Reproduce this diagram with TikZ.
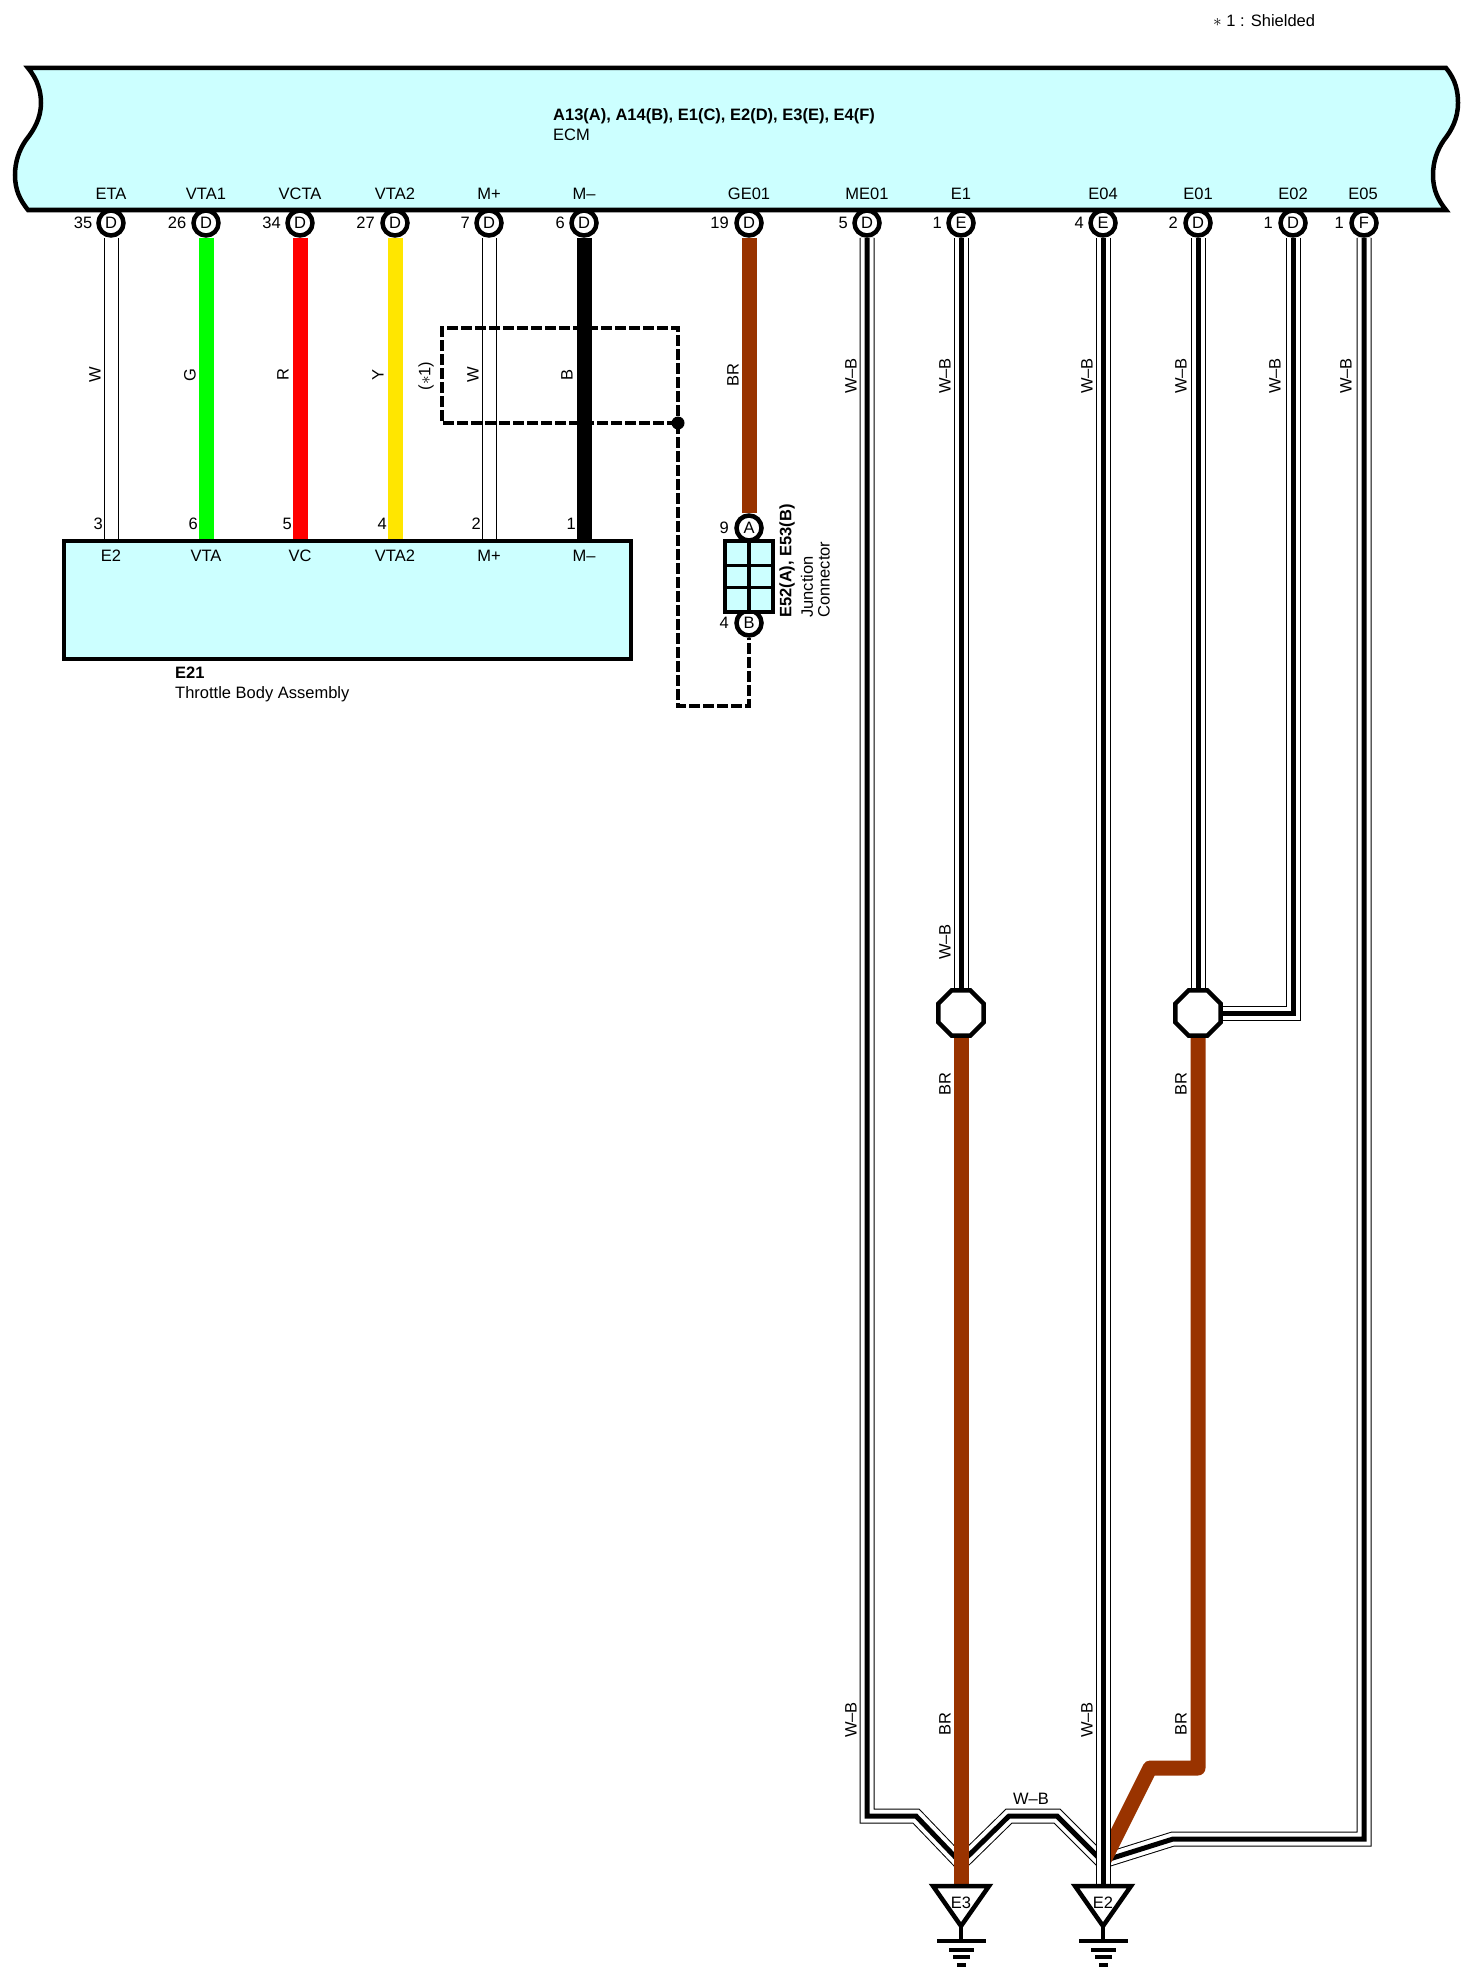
\documentclass[tikz,border=0pt]{standalone}
\usepackage{fontspec}
\setmainfont{Liberation Sans}
\usepackage{tikz}
\usetikzlibrary{shapes.geometric,backgrounds}
\definecolor{ecmfill}{HTML}{CCFFFF}
\definecolor{wirebr}{HTML}{993300}
\definecolor{wireg}{HTML}{00FF00}
\definecolor{wirer}{HTML}{FF0000}
\definecolor{wirey}{HTML}{FFE600}
\newcommand{\wirewidth}{15pt}
\newcommand{\thickness}{4.5pt}
\newcommand{\labfont}{\fontsize{16.5pt}{19pt}\selectfont}
\tikzset{
  lab/.style={font=\labfont,inner sep=0pt},
  vlab/.style={lab,rotate=90},
  pinmark/.style={circle,draw,fill=white,line width=\thickness,minimum size=25pt,inner sep=0pt,font=\labfont},
  wire/.style={line width=\wirewidth},
  wwire/.style={line width=1pt,double=white,double distance=13pt},
  wbwire/.style={preaction={draw,black,line width=\wirewidth},preaction={draw,white,line width=13pt},draw,black,line width=5pt},
  shield/.style={line width=\thickness,dash pattern=on 11pt off 3pt},
  body/.style={draw,line width=\thickness,fill=ecmfill},
  splice/.style={regular polygon,regular polygon sides=8,draw,fill=white,line width=\thickness,minimum size=49pt,inner sep=0pt},
  bar/.style={line width=3.5pt}
}

\begin{document}
\begin{tikzpicture}[x=1pt,y=-1pt]
\useasboundingbox (0,0) rectangle (1467,1980);
%ECM
\draw[body] (28,68) -- (1446,68) .. controls (1456,80) and (1458,92) .. (1458,103) .. controls (1458,118) and (1452,130) .. (1444,140) .. controls (1437,150) and (1433,162) .. (1433,175) .. controls (1433,190) and (1438,200) .. (1446,210) -- (28,210) .. controls (20,200) and (15,190) .. (15,175) .. controls (15,162) and (19,150) .. (26,140) .. controls (34,130) and (41,118) .. (41,103) .. controls (41,92) and (38,80) .. (28,68) -- cycle;
\node[lab,anchor=west,font=\labfont\bfseries] (ecmname) at (553,116) {A13(A), A14(B), E1(C), E2(D), E3(E), E4(F)};
\node[lab,anchor=west] (ecmtext) at (553,135) {ECM};
\node[lab,anchor=west] (note) at (1213,21) {$\ast$ 1 : Shielded};
%throttle body
\node[body,minimum width=567pt,minimum height=118pt,inner sep=0pt] (e21) at (347.5,600) {};
\node[lab,anchor=west,font=\labfont\bfseries] (e21name) at (175,673) {E21};
\node[lab,anchor=west] (e21text) at (175,694) {Throttle Body Assembly};
%ECM pins
\node[pinmark] (p1) at (111,223) {D};
\node[pinmark] (p2) at (206,223) {D};
\node[pinmark] (p3) at (300,223) {D};
\node[pinmark] (p4) at (395,223) {D};
\node[pinmark] (p5) at (489,223) {D};
\node[pinmark] (p6) at (584,223) {D};
\node[pinmark] (p7) at (749,223) {D};
\node[pinmark] (p8) at (867,223) {D};
\node[pinmark] (p9) at (961,223) {E};
\node[pinmark] (p10) at (1103,223) {E};
\node[pinmark] (p11) at (1198,223) {D};
\node[pinmark] (p12) at (1293,223) {D};
\node[pinmark] (p13) at (1364,223) {F};
\node[lab] (n1) at (111,194) {ETA};
\node[lab] (n2) at (206,194) {VTA1};
\node[lab] (n3) at (300,194) {VCTA};
\node[lab] (n4) at (395,194) {VTA2};
\node[lab] (n5) at (489,194) {M+};
\node[lab] (n6) at (584,194) {M–};
\node[lab] (n7) at (749,194) {GE01};
\node[lab] (n8) at (867,194) {ME01};
\node[lab] (n9) at (961,194) {E1};
\node[lab] (n10) at (1103,194) {E04};
\node[lab] (n11) at (1198,194) {E01};
\node[lab] (n12) at (1293,194) {E02};
\node[lab] (n13) at (1363,194) {E05};
\node[lab,anchor=east] (c1) at (92.5,223) {35};
\node[lab,anchor=east] (c2) at (186.5,223) {26};
\node[lab,anchor=east] (c3) at (281,223) {34};
\node[lab,anchor=east] (c4) at (375,223) {27};
\node[lab,anchor=east] (c5) at (470,223) {7};
\node[lab,anchor=east] (c6) at (565,223) {6};
\node[lab,anchor=east] (c7) at (729,223) {19};
\node[lab,anchor=east] (c8) at (848,223) {5};
\node[lab,anchor=east] (c9) at (942,223) {1};
\node[lab,anchor=east] (c10) at (1084,223) {4};
\node[lab,anchor=east] (c11) at (1178,223) {2};
\node[lab,anchor=east] (c12) at (1273,223) {1};
\node[lab,anchor=east] (c13) at (1344,223) {1};
%throttle body pins
\coordinate (t1) at (111,541);
\coordinate (t2) at (206,541);
\coordinate (t3) at (300,541);
\coordinate (t4) at (395,541);
\coordinate (t5) at (489,541);
\coordinate (t6) at (584,541);
\node[lab] (b1) at (111,556) {E2};
\node[lab] (b2) at (206,556) {VTA};
\node[lab] (b3) at (300,556) {VC};
\node[lab] (b4) at (395,556) {VTA2};
\node[lab] (b5) at (489,556) {M+};
\node[lab] (b6) at (584,556) {M–};
\node[lab,anchor=east] (d1) at (103,524) {3};
\node[lab,anchor=east] (d2) at (198,524) {6};
\node[lab,anchor=east] (d3) at (292,524) {5};
\node[lab,anchor=east] (d4) at (387,524) {4};
\node[lab,anchor=east] (d5) at (481,524) {2};
\node[lab,anchor=east] (d6) at (576,524) {1};
%upper wires
\begin{scope}[on background layer]
\draw[wwire] (p1) -- (t1);
\draw[wire,wireg] (p2) -- (t2);
\draw[wire,wirer] (p3) -- (t3);
\draw[wire,wirey] (p4) -- (t4);
\draw[wwire] (p5) -- (t5);
\draw[wire,black] (p6) -- (t6);
\end{scope}
\node[vlab] (w1) at (95,375) {W};
\node[vlab] (w2) at (190,375) {G};
\node[vlab] (w3) at (283,375) {R};
\node[vlab] (w4) at (378,375) {Y};
\node[vlab] (w5) at (473,375) {W};
\node[vlab] (w6) at (567,375) {B};
\node[vlab] (w7) at (733,375) {BR};
\node[vlab] (w8) at (851,376) {W–B};
\node[vlab] (w9) at (945,376) {W–B};
\node[vlab] (w10) at (1087,376) {W–B};
\node[vlab] (w11) at (1181,376) {W–B};
\node[vlab] (w12) at (1275,376) {W–B};
\node[vlab] (w13) at (1346,376) {W–B};
\node[vlab] (shieldtext) at (426,376) {($\ast$1)};
%junction connector
\node[pinmark] (ja) at (749,528) {A};
\node[pinmark] (jb) at (749,623) {B};
\node[lab,anchor=east] (ja1) at (729,528) {9};
\node[lab,anchor=east] (jb1) at (729,623) {4};
\node[body,minimum width=48pt,minimum height=71pt,inner sep=0pt] (jc) at (749,576.5) {};
\draw[line width=\thickness] (jc.north) -- (jc.south);
\coordinate (jl1) at (725,565);
\coordinate (jr1) at (773,565);
\coordinate (jl2) at (725,587);
\coordinate (jr2) at (773,587);
\draw[line width=3pt] (jl1) -- (jr1);
\draw[line width=3pt] (jl2) -- (jr2);
\draw[wire,wirebr] (p7) -- (ja);
\node[vlab,anchor=west,font=\labfont\bfseries] (jname) at (787,618) {E52(A), E53(B)};
\node[vlab,anchor=west] (jtext1) at (807,618) {Junction};
\node[vlab,anchor=west] (jtext2) at (824,618) {Connector};
%shield
\node[circle,fill,inner sep=0pt,minimum size=13pt] (sd) at (678,423) {};
\coordinate (s1) at (442,423);
\coordinate (s2) at (442,328);
\coordinate (s3) at (678,328);
\coordinate (s4) at (678,706);
\coordinate (s5) at (749,706);
\draw[shield] (sd.center) -- (s1) -- (s2) -- (s3) -- (sd.center);
\draw[shield] (sd.center) -- (s4) -- (s5) -- (jb);
%grounds
\coordinate (g1) at (961,1886);
\coordinate (g2) at (1103,1886);
\node[lab] (g1text) at (961,1903) {E3};
\node[lab] (g2text) at (1103,1903) {E2};
\draw[line width=\thickness] (933,1886) -- (989,1886) -- (961,1926) -- cycle;
\draw[bar] (961,1926) -- (961,1941);
\draw[bar] (937,1941) -- (986,1941);
\draw[bar] (949,1950) -- (974,1950);
\draw[bar] (953,1957) -- (970,1957);
\draw[bar] (957,1965) -- (966,1965);
\draw[line width=\thickness] (1075,1886) -- (1131,1886) -- (1103,1926) -- cycle;
\draw[bar] (1103,1926) -- (1103,1941);
\draw[bar] (1079,1941) -- (1128,1941);
\draw[bar] (1091,1950) -- (1116,1950);
\draw[bar] (1095,1957) -- (1112,1957);
\draw[bar] (1099,1965) -- (1108,1965);
%splices
\node[splice] (o1) at (961,1013) {};
\node[splice] (o2) at (1198,1013) {};
\coordinate (a1) at (867,1816);
\coordinate (a2) at (916,1816);
\coordinate (a3) at (961,1863);
\coordinate (a4) at (1009,1816);
\coordinate (a5) at (1057,1816);
\coordinate (a6) at (1103,1862);
\coordinate (e1) at (1364,1839);
\coordinate (e2) at (1173,1839);
\coordinate (e3) at (1103,1861);
\coordinate (f1) at (1293,1013);
\coordinate (h1) at (1198,1768);
\coordinate (h2) at (1150,1768);
\coordinate (h3) at (1098,1872);
%lower wires
\begin{scope}[on background layer]
\draw[wbwire] (p8) -- (a1) -- (a2) -- (a3);
\draw[wbwire] (a3) -- (a4) -- (a5) -- (a6);
\draw[wbwire] (p13) -- (e1) -- (e2) -- (e3);
\draw[wbwire] (p12) -- (f1) -- (o2);
\draw[wbwire] (p9) -- (o1);
\draw[wbwire] (p11) -- (o2);
\draw[wire,wirebr] (o1) -- (g1);
\begin{scope}
\clip (1111,1000) rectangle (1400,1900);
\draw[wire,wirebr,line join=round] (o2) -- (h1) -- (h2) -- (h3);
\end{scope}
\draw[wbwire] (p10) -- (g2);
\end{scope}
\node[vlab] (w14) at (945,942) {W–B};
\node[vlab] (w15) at (945,1084) {BR};
\node[vlab] (w16) at (1181,1084) {BR};
\node[vlab] (w17) at (851,1720) {W–B};
\node[vlab] (w18) at (945,1724) {BR};
\node[vlab] (w19) at (1087,1720) {W–B};
\node[vlab] (w20) at (1181,1724) {BR};
\node[lab] (w21) at (1031,1799) {W–B};
\end{tikzpicture}
\end{document}
